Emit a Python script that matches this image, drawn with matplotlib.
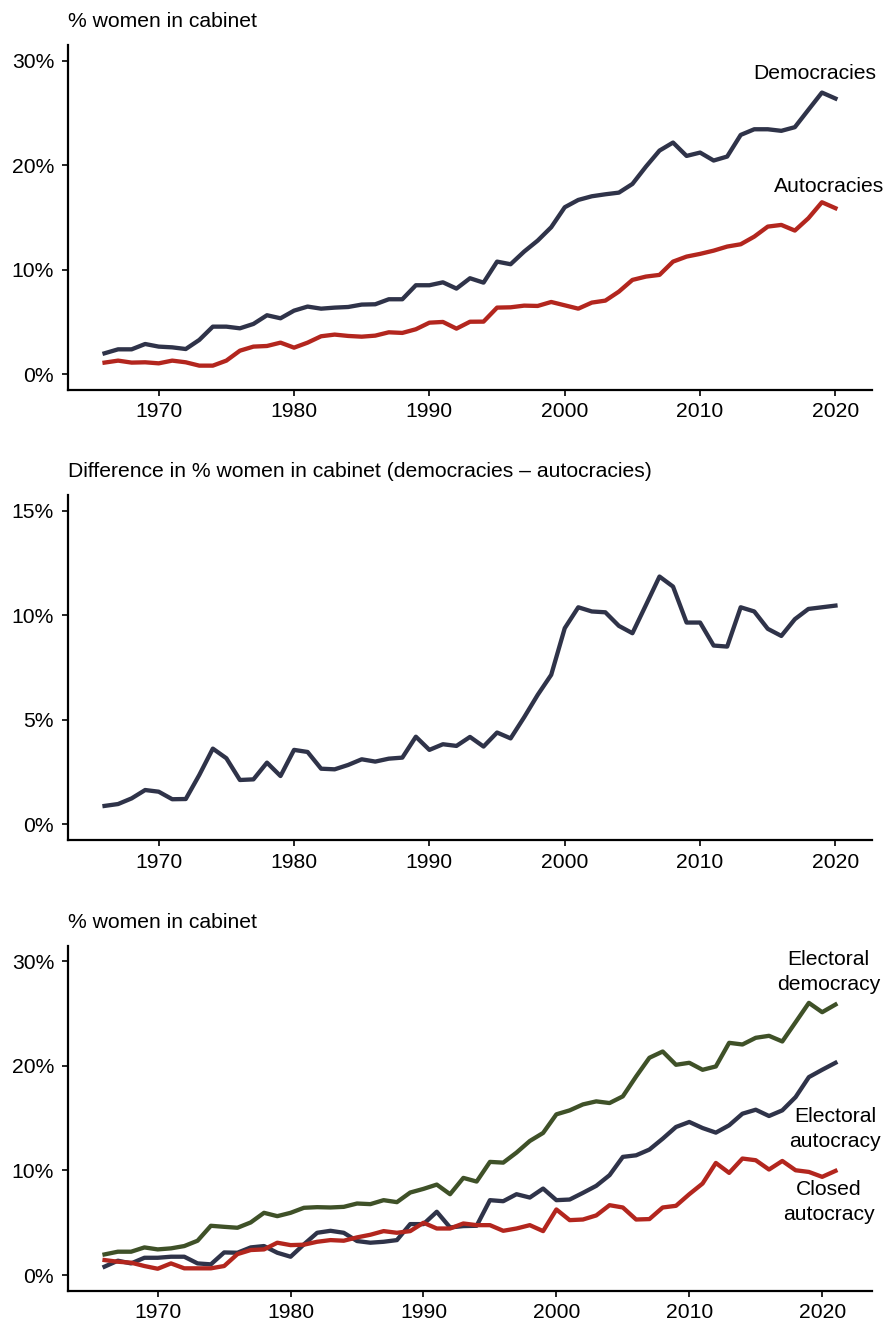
import numpy as np
import matplotlib
matplotlib.use('Agg')
import matplotlib.pyplot as plt

plt.rcParams['font.family'] = ['Liberation Sans', 'DejaVu Sans']

# Datos
anios = list(range(1966, 2021))
anios2 = list(range(1966, 2022))

democracias = [2.01, 2.39, 2.39, 2.90, 2.65, 2.58, 2.42, 3.29, 4.56, 4.56,
               4.40, 4.82, 5.65, 5.36, 6.09, 6.48, 6.28, 6.38, 6.44, 6.67,
               6.70, 7.18, 7.18, 8.52, 8.52, 8.80, 8.20, 9.19, 8.77, 10.78,
               10.53, 11.74, 12.79, 14.07, 15.98, 16.68, 17.03, 17.22, 17.38, 18.21,
               19.87, 21.40, 22.17, 20.89, 21.21, 20.45, 20.83, 22.90, 23.44, 23.44,
               23.29, 23.64, 25.30, 26.95, 26.38]
autocracias = [1.12, 1.31, 1.12, 1.15, 1.05, 1.31, 1.15, 0.83, 0.83, 1.31,
               2.26, 2.65, 2.71, 3.03, 2.55, 3.03, 3.64, 3.80, 3.67, 3.60,
               3.70, 4.02, 3.96, 4.31, 4.94, 5.01, 4.37, 5.03, 5.04, 6.38,
               6.41, 6.57, 6.54, 6.92, 6.60, 6.28, 6.86, 7.05, 7.91, 9.03,
               9.35, 9.51, 10.78, 11.26, 11.52, 11.83, 12.22, 12.44, 13.17, 14.13,
               14.29, 13.75, 14.93, 16.46, 15.89]
diferencia = [0.88, 0.97, 1.24, 1.64, 1.56, 1.20, 1.21, 2.36, 3.62, 3.16,
              2.12, 2.15, 2.95, 2.31, 3.56, 3.46, 2.66, 2.63, 2.84, 3.11,
              3.00, 3.14, 3.19, 4.19, 3.56, 3.83, 3.75, 4.18, 3.72, 4.39,
              4.11, 5.12, 6.19, 7.15, 9.38, 10.38, 10.18, 10.14, 9.49, 9.14,
              10.49, 11.85, 11.37, 9.65, 9.65, 8.55, 8.50, 10.38, 10.18, 9.35,
              9.01, 9.81, 10.30, 10.38, 10.46]

democraciaElectoral = [1.97, 2.23, 2.23, 2.64, 2.45, 2.55, 2.77, 3.28, 4.71, 4.61,
                       4.52, 5.03, 5.95, 5.63, 5.95, 6.43, 6.49, 6.46, 6.52, 6.84,
                       6.78, 7.16, 6.97, 7.89, 8.24, 8.65, 7.73, 9.29, 8.94, 10.82,
                       10.75, 11.71, 12.82, 13.59, 15.37, 15.75, 16.32, 16.61, 16.45, 17.09,
                       18.99, 20.78, 21.38, 20.11, 20.30, 19.63, 19.95, 22.21, 22.05, 22.69,
                       22.88, 22.34, 24.18, 26.03, 25.14, 25.87]
autocraciaElectoral = [0.80, 1.37, 1.11, 1.65, 1.65, 1.75, 1.75, 1.11, 1.02, 2.16,
                       2.13, 2.64, 2.77, 2.13, 1.75, 2.93, 4.04, 4.23, 4.04, 3.25,
                       3.09, 3.18, 3.34, 4.87, 4.87, 6.05, 4.55, 4.68, 4.71, 7.16,
                       7.06, 7.73, 7.41, 8.27, 7.16, 7.22, 7.86, 8.53, 9.55, 11.30,
                       11.45, 12.00, 13.04, 14.16, 14.64, 14.06, 13.62, 14.32, 15.43, 15.81,
                       15.21, 15.75, 17.02, 18.93, 19.63, 20.30]
autocraciaCerrada = [1.43, 1.27, 1.18, 0.86, 0.60, 1.11, 0.64, 0.64, 0.64, 0.86,
                     2.00, 2.39, 2.45, 3.09, 2.86, 2.90, 3.18, 3.34, 3.28, 3.60,
                     3.85, 4.20, 4.04, 4.20, 5.00, 4.45, 4.45, 4.93, 4.77, 4.77,
                     4.23, 4.45, 4.77, 4.20, 6.27, 5.25, 5.31, 5.70, 6.68, 6.46,
                     5.31, 5.35, 6.46, 6.62, 7.73, 8.75, 10.72, 9.77, 11.14, 10.98,
                     10.09, 10.91, 10.02, 9.86, 9.39, 9.96]

azul = '#2f3349'
rojo = '#b3261e'
verde = '#3f5128'
tam = 15.2

fig = plt.figure(figsize=(8.85, 13.24), dpi=100)

izq = 68 / 885
ancho = 804 / 885
alto = 345 / 1324


def preparar(ax, ymax, paso, xmin, xmax, titulo):
    ax.set_xlim(xmin, xmax)
    ax.set_ylim(-0.05 * ymax, 1.05 * ymax)
    ax.set_yticks(np.arange(0, ymax + 0.1, paso))
    ax.set_yticklabels([f'{int(v)}%' for v in np.arange(0, ymax + 0.1, paso)])
    ax.set_xticks([1970, 1980, 1990, 2000, 2010, 2020])
    for lado in ['top', 'right']:
        ax.spines[lado].set_visible(False)
    for lado in ['left', 'bottom']:
        ax.spines[lado].set_linewidth(1.6)
    ax.tick_params(length=4, width=1.2, labelsize=tam, pad=5)
    ax.tick_params(axis='y', pad=6)
    pos = ax.get_position()
    fig.text(izq, pos.y1 + 23 / 1324, titulo, fontsize=tam, ha='left', va='center')


# Panel 1
ax1 = fig.add_axes([izq, 1 - 390 / 1324, ancho, alto])
ax1.plot(anios, democracias, color=azul, lw=3.1)
ax1.plot(anios, autocracias, color=rojo, lw=3.1)
preparar(ax1, 30, 10, 1963.3, 2022.7, '% women in cabinet')
ax1.text(2018.5, 28.8, 'Democracies', fontsize=tam, ha='center', va='center')
ax1.text(2019.5, 18.0, 'Autocracies', fontsize=tam, ha='center', va='center')

# Panel 2
ax2 = fig.add_axes([izq, 1 - 840 / 1324, ancho, alto])
ax2.plot(anios, diferencia, color=azul, lw=3.1)
preparar(ax2, 15, 5, 1963.3, 2022.7,
         'Difference in % women in cabinet (democracies \u2013 autocracies)')

# Panel 3
ax3 = fig.add_axes([izq, 1 - 1290.7 / 1324, ancho, alto])
ax3.plot(anios2, democraciaElectoral, color=verde, lw=3.1)
ax3.plot(anios2, autocraciaElectoral, color=azul, lw=3.1)
ax3.plot(anios2, autocraciaCerrada, color=rojo, lw=3.1)
preparar(ax3, 30, 10, 1963.25, 2023.75, '% women in cabinet')
ax3.text(2020.5, 29.0, 'Electoral\ndemocracy', fontsize=tam, ha='center', va='center', linespacing=1.4)
ax3.text(2020.97, 14.0, 'Electoral\nautocracy', fontsize=tam, ha='center', va='center', linespacing=1.4)
ax3.text(2020.5, 7.0, 'Closed\nautocracy', fontsize=tam, ha='center', va='center', linespacing=1.4)

fig.savefig('out.png', dpi=100)
